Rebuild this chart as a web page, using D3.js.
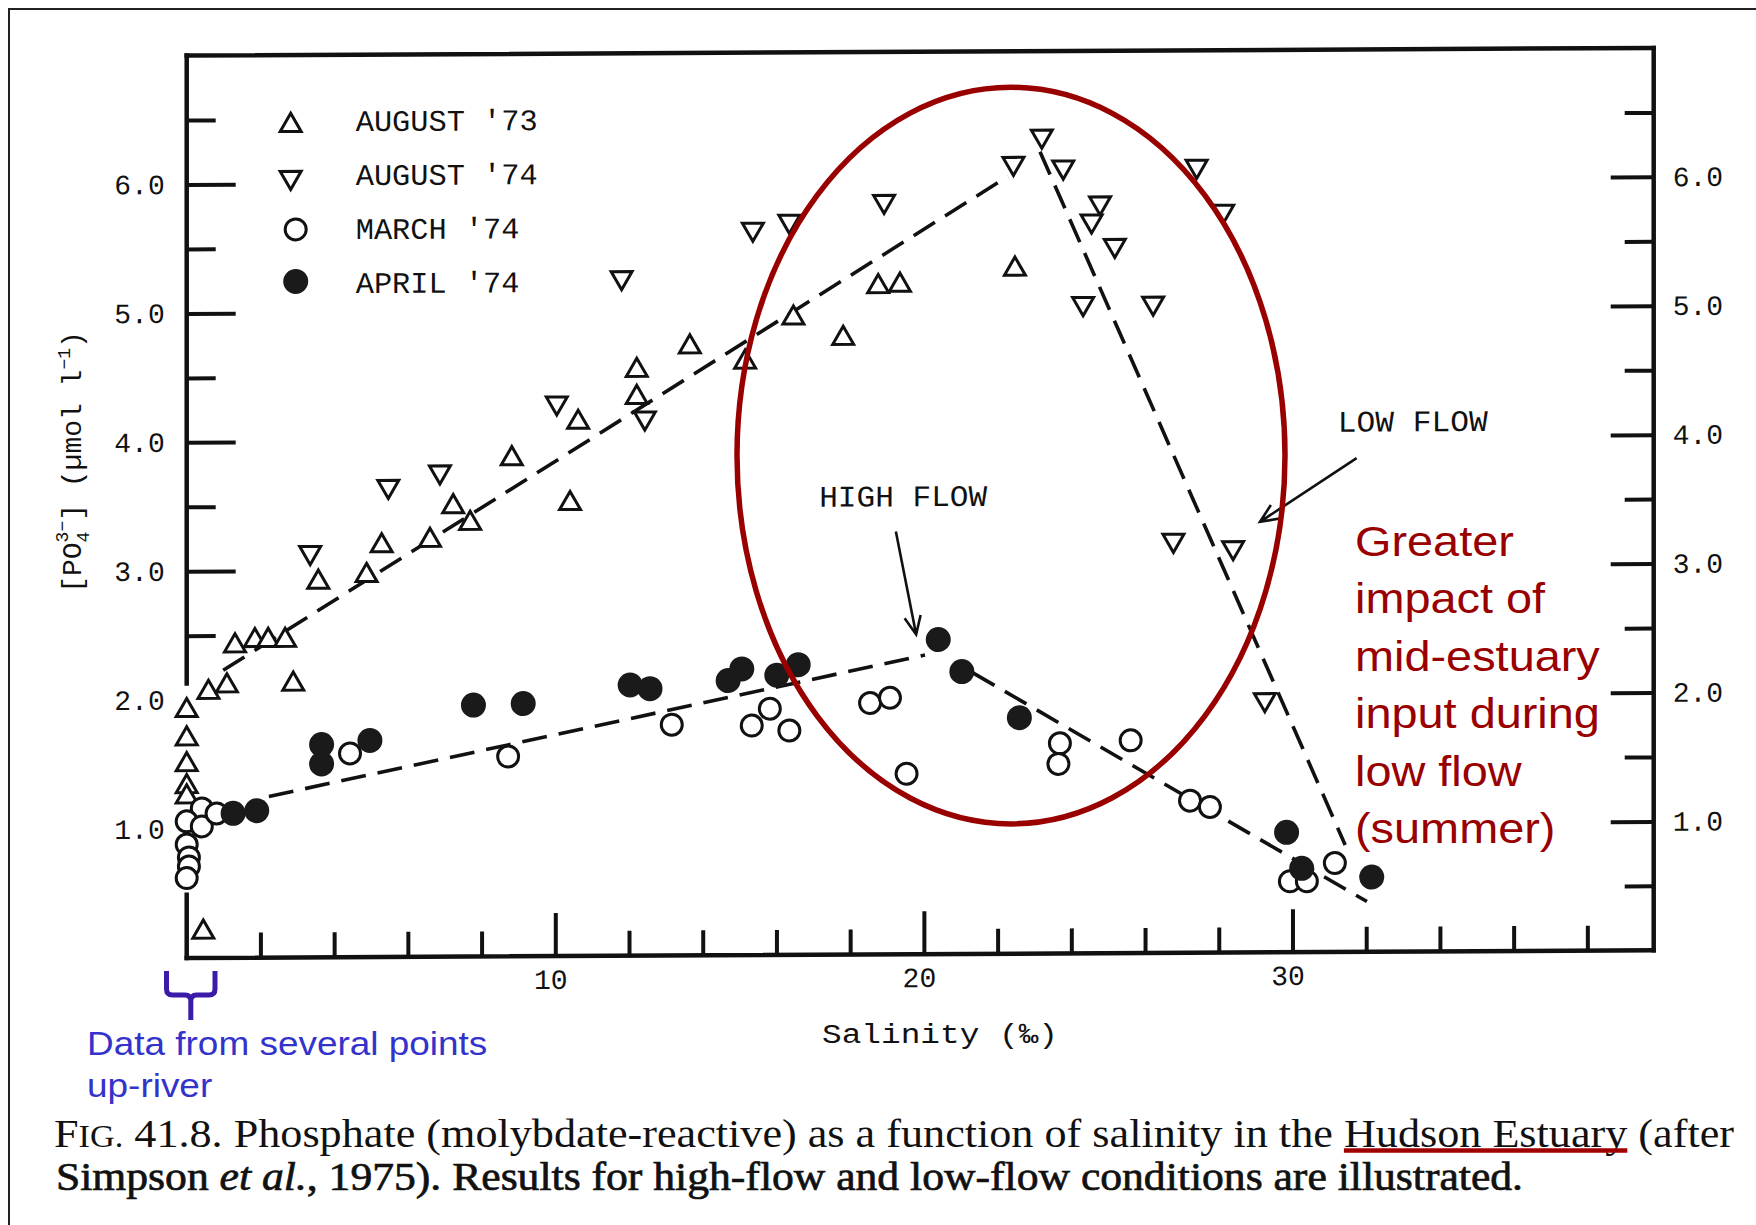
<!DOCTYPE html>
<html>
<head>
<meta charset="utf-8">
<script src="https://cdn.jsdelivr.net/npm/d3@7"></script>
<style>
  html, body { margin: 0; padding: 0; background: #fff; }
  svg { display: block; }
</style>
</head>
<body>
<svg id="fig" width="1756" height="1225"></svg>
<script>
// ---- Survey data: salinity (‰) and molybdate-reactive phosphate (µmol l⁻¹) ----
const aug73Salinity  = [0, 0, 0, 0, 0, 0.45, 0.59, 1.09, 1.31, 1.85, 2.21, 2.67, 2.89, 3.57, 4.88, 5.29,
                        6.60, 7.23, 7.69, 8.82, 10.40, 10.62, 12.21, 12.21, 13.65, 15.15, 16.46, 17.81,
                        18.76, 19.35, 22.47];
const aug73Phosphate = [1.92, 1.70, 1.50, 1.33, 1.25, 0.20, 2.06, 2.11, 2.42, 2.46, 2.46, 2.46, 2.12, 2.91,
                        2.96, 3.19, 3.23, 3.49, 3.36, 3.86, 3.51, 4.14, 4.54, 4.33, 4.72, 4.60, 4.94, 4.78,
                        5.18, 5.19, 5.31];

const aug74Salinity  = [3.35, 5.47, 6.87, 10.04, 12.43, 11.80, 15.36, 16.35, 18.92, 22.43, 23.20, 23.78,
                        24.78, 24.55, 25.18, 24.32, 26.22, 27.40, 28.12, 26.77, 28.39, 29.25];
const aug74Phosphate = [3.14, 3.65, 3.76, 4.29, 4.17, 5.26, 5.63, 5.69, 5.84, 6.13, 6.34, 6.10,
                        5.82, 5.68, 5.49, 5.04, 5.04, 6.10, 5.75, 3.20, 3.14, 1.96];

const mar74Salinity  = [0.41, 0, 0.41, 0.81, 0, 0.06, 0.06, 0, 4.43, 8.72, 13.16, 15.33, 15.82, 16.35,
                        18.54, 19.08, 19.53, 23.69, 23.65, 25.61, 27.22, 27.76, 29.93, 30.39, 31.15];
const mar74Phosphate = [1.16, 1.06, 1.02, 1.12, 0.88, 0.78, 0.71, 0.62, 1.58, 1.55, 1.79, 1.78, 1.91, 1.74,
                        1.95, 1.99, 1.40, 1.63, 1.47, 1.65, 1.18, 1.13, 0.55, 0.55, 0.69];

const apr74Salinity  = [1.26, 1.90, 3.66, 3.66, 4.97, 7.78, 9.13, 12.03, 12.57, 14.69, 15.06, 16.01, 16.59,
                        20.39, 21.03, 22.59, 29.84, 30.25, 32.15];
const apr74Phosphate = [1.12, 1.14, 1.65, 1.50, 1.68, 1.95, 1.96, 2.10, 2.07, 2.13, 2.22, 2.17, 2.25,
                        2.44, 2.19, 1.83, 0.93, 0.65, 0.58];

// Mixing lines drawn by eye through each flow regime (start / end points)
const lowFlowRiseSalinity   = [0.99, 22.28];
const lowFlowRisePhosphate  = [2.23, 6.03];
const lowFlowFallSalinity   = [23.15, 31.43];
const lowFlowFallPhosphate  = [6.22, 0.83];
const highFlowRiseSalinity  = [2.23, 20.03];
const highFlowRisePhosphate = [1.25, 2.32];
const highFlowFallSalinity  = [21.33, 32.02];
const highFlowFallPhosphate = [2.18, 0.39];

// Axis ticks
const yMajorTicks = [1, 2, 3, 4, 5, 6];
const yMinorTicks = [0.5, 1.5, 2.5, 3.5, 4.5, 5.5, 6.5];
const xMajorTicks = [10, 20, 30];
const xMinorTicks = [2, 4, 6, 8, 12, 14, 16, 18, 22, 24, 26, 28, 32, 34, 36, 38];

const legendLabels = ["AUGUST '73", "AUGUST '74", "MARCH '74", "APRIL '74"];
const noteLines = ["Greater", "impact of", "mid-estuary", "input during", "low flow", "(summer)"];
const upRiverLines = ["Data from several points", "up-river"];

// ---- Layout ----
const ink = "#111";
const mono = "'Liberation Mono', 'DejaVu Sans Mono', monospace";
const sans = "'Liberation Sans', Arial, sans-serif";
const serif = "'Liberation Serif', 'Times New Roman', serif";
const darkRed = "#990000";

const svg = d3.select("#fig");
const sMax = 39.8, pMax = 7;
const x = d3.scaleLinear().domain([0, sMax]).range([0, 1467]);
const y = d3.scaleLinear().domain([0, pMax]).range([958, 55.6]);
const leftAxisGap = [0.49, 2.13];   // stretch of the left axis hidden behind the fresh-water points

// outer page border
svg.append("path").attr("d", "M9,1225V9H1756")
  .attr("fill", "none").attr("stroke", "#222").attr("stroke-width", 2);

// plot group; the printed figure leans very slightly
const plot = svg.append("g").attr("transform", "translate(186.7,0) skewY(-0.3)");

// ---- Frame ----
const frame = plot.append("g").attr("stroke", ink).attr("stroke-width", 4.5)
  .attr("stroke-linecap", "square").attr("fill", "none");
frame.append("line").attr("x1", x(0)).attr("x2", x(sMax)).attr("y1", y(pMax)).attr("y2", y(pMax));
frame.append("line").attr("x1", x(sMax)).attr("x2", x(sMax)).attr("y1", y(pMax)).attr("y2", y(0));
frame.append("line").attr("x1", x(0)).attr("x2", x(sMax)).attr("y1", y(0)).attr("y2", y(0));
frame.append("line").attr("x1", x(0)).attr("x2", x(0)).attr("y1", y(pMax)).attr("y2", y(leftAxisGap[1]));
frame.append("line").attr("x1", x(0)).attr("x2", x(0)).attr("y1", y(leftAxisGap[0])).attr("y2", y(0));

// ---- Axes (inward ticks) ----
const fmt1 = d3.format(".1f");
function styleAxis(g) {
  g.select(".domain").remove();
  g.selectAll(".tick line").attr("stroke", ink).attr("stroke-width", 4);
  g.selectAll(".tick text").attr("fill", ink).attr("font-family", mono).attr("font-size", 28);
}
const inGap = d => d > leftAxisGap[0] && d < leftAxisGap[1];

plot.append("g")
  .call(d3.axisLeft(y).tickValues(yMajorTicks).tickSize(-49).tickPadding(22).tickFormat(fmt1))
  .call(styleAxis)
  .call(g => g.selectAll(".tick line").filter(inGap).remove());
plot.append("g")
  .call(d3.axisLeft(y).tickValues(yMinorTicks).tickSize(-29).tickFormat(() => ""))
  .call(styleAxis)
  .call(g => g.selectAll(".tick line").filter(inGap).remove());

plot.append("g").attr("transform", `translate(${x(sMax)},0)`)
  .call(d3.axisRight(y).tickValues(yMajorTicks).tickSize(-43).tickPadding(19).tickFormat(fmt1))
  .call(styleAxis);
plot.append("g").attr("transform", `translate(${x(sMax)},0)`)
  .call(d3.axisRight(y).tickValues(yMinorTicks).tickSize(-29).tickFormat(() => ""))
  .call(styleAxis);

plot.append("g").attr("transform", `translate(0,${y(0)})`)
  .call(d3.axisBottom(x).tickValues(xMajorTicks).tickSize(-43).tickPadding(13).tickFormat(d3.format("d")))
  .call(styleAxis)
  .call(g => g.selectAll(".tick text").attr("dx", -5));
plot.append("g").attr("transform", `translate(0,${y(0)})`)
  .call(d3.axisBottom(x).tickValues(xMinorTicks).tickSize(-25).tickFormat(() => ""))
  .call(styleAxis);

// ---- Mixing lines ----
const line = d3.line().x(d => x(d[0])).y(d => y(d[1]));
[
  [lowFlowRiseSalinity, lowFlowRisePhosphate],
  [lowFlowFallSalinity, lowFlowFallPhosphate],
  [highFlowRiseSalinity, highFlowRisePhosphate],
  [highFlowFallSalinity, highFlowFallPhosphate]
].forEach(([s, p]) => {
  plot.append("path").attr("d", line(d3.zip(s, p)))
    .attr("fill", "none").attr("stroke", ink).attr("stroke-width", 3.6)
    .attr("stroke-dasharray", "25 12");
});

// ---- Markers ----
const triPath = d3.symbol(d3.symbolTriangle, 190)();
function triangles(s, p, down) {
  plot.append("g").selectAll("path").data(d3.zip(s, p)).join("path")
    .attr("d", triPath)
    .attr("transform", d => `translate(${x(d[0])},${y(d[1])})${down ? " rotate(180)" : ""}`)
    .attr("fill", "#fff").attr("stroke", ink).attr("stroke-width", 3);
}
function circles(s, p, filled) {
  plot.append("g").selectAll("circle").data(d3.zip(s, p)).join("circle")
    .attr("cx", d => x(d[0])).attr("cy", d => y(d[1]))
    .attr("r", filled ? 12.5 : 10.5)
    .attr("fill", filled ? "#1a1a1a" : "#fff")
    .attr("stroke", filled ? "none" : ink).attr("stroke-width", 3);
}
triangles(aug73Salinity, aug73Phosphate, false);
triangles(aug74Salinity, aug74Phosphate, true);
circles(mar74Salinity, mar74Phosphate, false);
circles(apr74Salinity, apr74Phosphate, true);

// ---- Legend ----
const legend = plot.append("g");
legendLabels.forEach((label, i) => {
  const cy = 126 + i * 52, sx = 104;
  if (i < 2) {
    legend.append("path").attr("d", triPath)
      .attr("transform", `translate(${sx},${cy})${i === 1 ? " rotate(180)" : ""}`)
      .attr("fill", "#fff").attr("stroke", ink).attr("stroke-width", 3);
  } else {
    legend.append("circle").attr("cx", sx + 5).attr("cy", cy).attr("r", i === 3 ? 12.5 : 10.5)
      .attr("fill", i === 3 ? "#1a1a1a" : "#fff")
      .attr("stroke", i === 3 ? "none" : ink).attr("stroke-width", 3);
  }
  legend.append("text").attr("x", 169).attr("y", 132 + i * 54)
    .attr("font-family", mono).attr("font-size", 30).attr("fill", ink)
    .attr("textLength", label.length * 18.2).attr("lengthAdjust", "spacingAndGlyphs")
    .text(label);
});

// ---- Flow annotations ----
function arrow(from, to) {
  const x0 = x(from[0]), y0 = y(from[1]), x1 = x(to[0]), y1 = y(to[1]);
  const a = Math.atan2(y0 - y1, x0 - x1), len = 20, spread = 0.42;
  const d = `M${x0},${y0}L${x1},${y1}` +
    `M${x1 + len * Math.cos(a + spread)},${y1 + len * Math.sin(a + spread)}L${x1},${y1}` +
    `L${x1 + len * Math.cos(a - spread)},${y1 + len * Math.sin(a - spread)}`;
  plot.append("path").attr("d", d).attr("fill", "none").attr("stroke", ink).attr("stroke-width", 2.6);
}
plot.append("text").attr("x", x(17.16)).attr("y", y(3.475))
  .attr("font-family", mono).attr("font-size", 30).attr("fill", ink)
  .attr("textLength", 168).attr("lengthAdjust", "spacingAndGlyphs").text("HIGH FLOW");
plot.append("text").attr("x", x(31.23)).attr("y", y(4.036))
  .attr("font-family", mono).attr("font-size", 30).attr("fill", ink)
  .attr("textLength", 150).attr("lengthAdjust", "spacingAndGlyphs").text("LOW FLOW");
arrow([19.24, 3.28], [19.79, 2.48]);
arrow([31.74, 3.83], [29.12, 3.34]);

// ---- Axis titles ----
svg.append("text").attr("x", 940).attr("y", 1043).attr("text-anchor", "middle")
  .attr("font-family", mono).attr("font-size", 27).attr("fill", ink)
  .attr("textLength", 236).attr("lengthAdjust", "spacingAndGlyphs")
  .text("Salinity (‰)");

const yTitle = svg.append("text")
  .attr("transform", "translate(81,462) rotate(-90)")
  .attr("text-anchor", "middle")
  .attr("font-family", mono).attr("font-size", 28).attr("fill", ink);
yTitle.append("tspan").text("[PO");
yTitle.append("tspan").attr("font-size", 18).attr("dy", 8).text("4");
yTitle.append("tspan").attr("font-size", 18).attr("dx", -10.8).attr("dy", -21).text("3−");
yTitle.append("tspan").attr("dy", 13).text("] (µmol l");
yTitle.append("tspan").attr("font-size", 18).attr("dy", -11).text("−1");
yTitle.append("tspan").attr("dy", 11).text(")");

// ---- Highlight ellipse and notes ----
svg.append("ellipse").attr("cx", 1011).attr("cy", 455.6).attr("rx", 274).attr("ry", 368.3)
  .attr("fill", "none").attr("stroke", darkRed).attr("stroke-width", 5.5);

const note = svg.append("g").attr("transform", "translate(1355,0) scale(1.09,1)");
noteLines.forEach((t, i) => {
  note.append("text").attr("x", 0).attr("y", 556 + i * 57.5)
    .attr("font-family", sans).attr("font-size", 43).attr("fill", darkRed).text(t);
});

// brace under the fresh-water end of the salinity axis
svg.append("path")
  .attr("d", "M166.5,971V989Q166.5,995 172.5,995H185Q190.8,995 190.8,1001V1020" +
             "M215,971V989Q215,995 209,995H196.5Q190.8,995 190.8,1001")
  .attr("fill", "none").attr("stroke", "#3b1ca8").attr("stroke-width", 5);

const upRiver = svg.append("g").attr("transform", "translate(87,0) scale(1.12,1)");
upRiverLines.forEach((t, i) => {
  upRiver.append("text").attr("x", 0).attr("y", 1055 + i * 42)
    .attr("font-family", sans).attr("font-size", 33).attr("fill", "#3333cc").text(t);
});

// ---- Figure caption ----
const cap1 = svg.append("text").attr("x", 54).attr("y", 1147)
  .attr("font-family", serif).attr("font-size", 40).attr("fill", "#111")
  .attr("textLength", 1680).attr("lengthAdjust", "spacingAndGlyphs");
cap1.append("tspan").text("F");
cap1.append("tspan").attr("font-size", 31).text("IG.");
cap1.append("tspan").text(" 41.8. Phosphate (molybdate-reactive) as a function of salinity in the ");
const hudson = cap1.append("tspan").text("Hudson Estuary");
cap1.append("tspan").text(" (after");

const cap2 = svg.append("text").attr("x", 56).attr("y", 1190)
  .attr("font-family", serif).attr("font-size", 40).attr("fill", "#111")
  .attr("stroke", "#111").attr("stroke-width", 0.7)
  .attr("textLength", 1467).attr("lengthAdjust", "spacingAndGlyphs");
cap2.append("tspan").text("Simpson ");
cap2.append("tspan").attr("font-style", "italic").text("et al.");
cap2.append("tspan").text(", 1975). Results for high-flow and low-flow conditions are illustrated.");

// underline the estuary name
const hn = hudson.node();
const n = hn.getNumberOfChars();
const ux0 = hn.getStartPositionOfChar(0).x;
const ux1 = hn.getEndPositionOfChar(n - 1).x;
svg.append("line").attr("x1", ux0).attr("x2", ux1).attr("y1", 1150.5).attr("y2", 1150.5)
  .attr("stroke", "#a00000").attr("stroke-width", 4.5);
</script>
</body>
</html>
